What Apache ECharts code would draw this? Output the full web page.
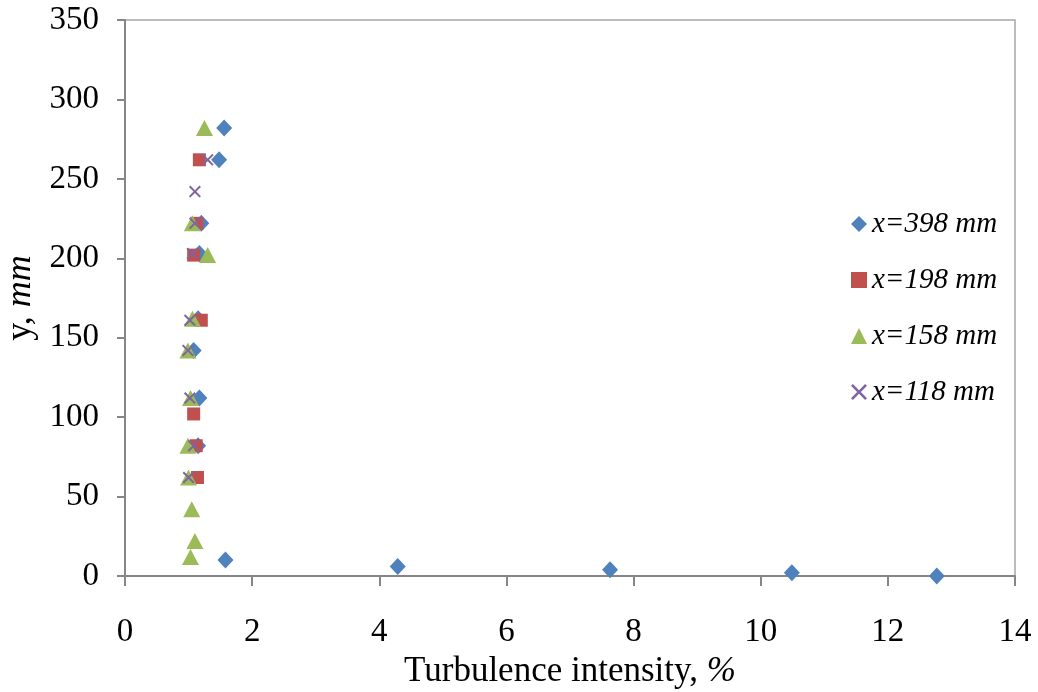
<!DOCTYPE html>
<html>
<head>
<meta charset="utf-8">
<script src="https://cdn.jsdelivr.net/npm/echarts@6/dist/echarts.min.js"></script>
<style>
  html, body { margin: 0; padding: 0; background: #fff; }
  #chart { width: 1038px; height: 692px; }
</style>
</head>
<body>
<div id="chart"></div>
<script>
// Turbulence intensity (%) against height y (mm) at four streamwise stations
const seriesNames = ['x=398 mm', 'x=198 mm', 'x=158 mm', 'x=118 mm'];

// x = 398 mm
const ti398 = [1.56, 1.48, 1.2, 1.17, 1.15, 1.08, 1.17, 1.15, 1.58, 4.29, 7.63, 10.49, 12.77];
const y398  = [282, 262, 222, 203, 162, 142, 112, 82, 10, 6, 4, 2, 0];

// x = 198 mm
const ti198 = [1.17, 1.13, 1.08, 1.2, 1.08, 1.12, 1.14];
const y198  = [262, 222, 202, 161, 102, 82, 62];

// x = 158 mm
const ti158 = [1.25, 1.06, 1.3, 1.06, 0.99, 1.03, 0.99, 1.0, 1.05, 1.1, 1.03];
const y158  = [282, 222, 202, 162, 142, 112, 82, 62, 42, 22, 12];

// x = 118 mm
const ti118 = [1.3, 1.1, 1.1, 1.06, 1.02, 0.99, 1.02, 1.08, 1.0];
const y118  = [262, 242, 222, 203, 161, 142, 112, 82, 62];

const xTicks = [0, 2, 4, 6, 8, 10, 12, 14];
const yTicks = [0, 50, 100, 150, 200, 250, 300, 350];

const colors = ['#4F81BD', '#C0504D', '#9BBB59', '#8064A2'];
const crossPath = 'path://M0,1.4L1.4,0L6,4.6L10.6,0L12,1.4L7.4,6L12,10.6L10.6,12L6,7.4L1.4,12L0,10.6L4.6,6Z';

const pairs = (xs, ys) => xs.map((v, i) => [v, ys[i]]);

const font = '"Liberation Serif", "DejaVu Serif", serif';

const chart = echarts.init(document.getElementById('chart'), null, { renderer: 'canvas' });
chart.setOption({
  animation: false,
  color: colors,
  textStyle: { fontFamily: font },
  grid: {
    left: 125, right: 23, top: 20, bottom: 116,
    containLabel: false, outerBoundsMode: 'none',
    show: true, borderColor: '#A6A6A6', borderWidth: 1.5
  },
  legend: {
    orient: 'vertical',
    left: 846, top: 204,
    itemGap: 26,
    itemWidth: 16, itemHeight: 16,
    textStyle: {
      fontFamily: font, fontStyle: 'italic', fontSize: 29, color: '#000',
      lineHeight: 30
    },
    data: seriesNames
  },
  xAxis: {
    type: 'value',
    min: xTicks[0], max: xTicks[xTicks.length - 1], interval: 2,
    name: '{n|Turbulence intensity, }{i|%}',
    nameLocation: 'middle', nameGap: 78,
    nameTextStyle: {
      rich: {
        n: { fontFamily: font, fontSize: 35, color: '#000' },
        i: { fontFamily: font, fontSize: 35, fontStyle: 'italic', color: '#000' }
      }
    },
    axisLine: { lineStyle: { color: '#868686', width: 2 } },
    axisTick: { show: true, inside: false, length: 10, lineStyle: { color: '#868686', width: 2 } },
    axisLabel: { fontFamily: font, fontSize: 33, color: '#000', margin: 40 },
    splitLine: { show: false }
  },
  yAxis: {
    type: 'value',
    min: yTicks[0], max: yTicks[yTicks.length - 1], interval: 50,
    name: '{n|y, }{i|mm}',
    nameLocation: 'middle', nameGap: 86, nameRotate: 90,
    nameTextStyle: {
      rich: {
        n: { fontFamily: font, fontSize: 36, color: '#000' },
        i: { fontFamily: font, fontSize: 36, fontStyle: 'italic', color: '#000' }
      }
    },
    axisLine: { show: true, lineStyle: { color: '#868686', width: 2 } },
    axisTick: { show: true, inside: false, length: 8, lineStyle: { color: '#868686', width: 2 } },
    axisLabel: { fontFamily: font, fontSize: 33, color: '#000', margin: 26 },
    splitLine: { show: false }
  },
  series: [
    { name: seriesNames[0], type: 'scatter', symbol: 'diamond', symbolSize: [16, 17],
      itemStyle: { color: colors[0], opacity: 1 }, data: pairs(ti398, y398) },
    { name: seriesNames[1], type: 'scatter', symbol: 'rect', symbolSize: 13,
      itemStyle: { color: colors[1], opacity: 1 }, data: pairs(ti198, y198) },
    { name: seriesNames[2], type: 'scatter', symbol: 'triangle', symbolSize: [17, 16],
      itemStyle: { color: colors[2], opacity: 1 }, data: pairs(ti158, y158) },
    { name: seriesNames[3], type: 'scatter', symbol: crossPath, symbolSize: 12,
      itemStyle: { color: colors[3], opacity: 1 }, data: pairs(ti118, y118) }
  ]
});
</script>
</body>
</html>
